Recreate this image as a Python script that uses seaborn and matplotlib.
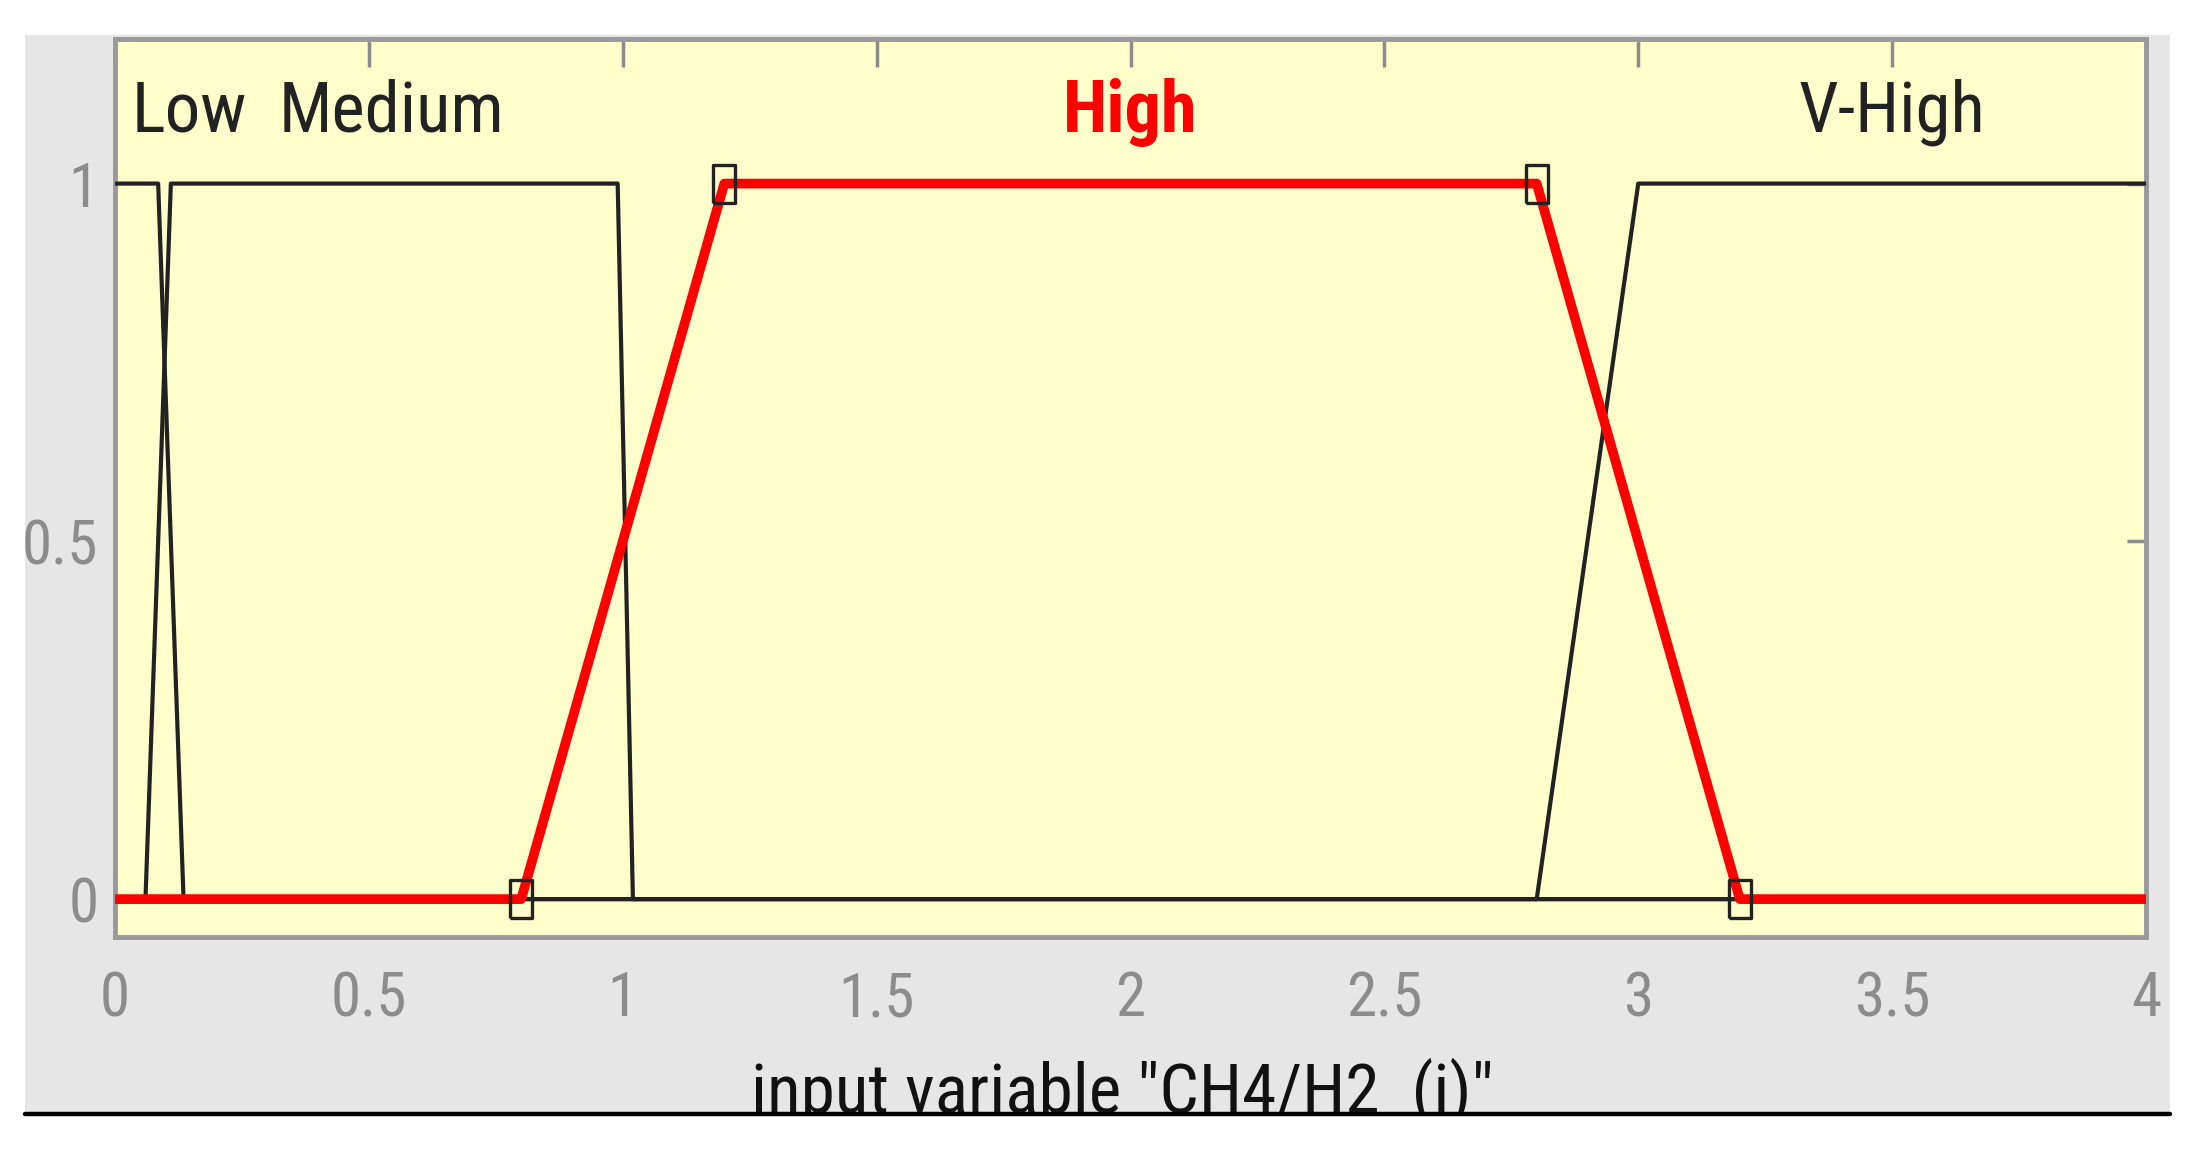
"""
Функции принадлежности входной переменной CH4/H2 (i) — копия окна MATLAB.
Выход: out.png
"""

import matplotlib
matplotlib.use("Agg")
import matplotlib.pyplot as plt
from matplotlib.patches import Rectangle
from matplotlib.lines import Line2D
from matplotlib.ticker import FormatStrFormatter
import seaborn as sns

# узлы трапеций (x, степень принадлежности)
low_x = [0.0, 0.085, 0.135, 4.0]
low_y = [1, 1, 0, 0]
medium_x = [0.0, 0.06, 0.11, 0.99, 1.02, 4.0]
medium_y = [0, 0, 1, 1, 0, 0]
high_x = [0.0, 0.8, 1.2, 2.8, 3.2, 4.0]
high_y = [0, 0, 1, 1, 0, 0]
vhigh_x = [0.0, 2.8, 3.0, 4.0]
vhigh_y = [0, 0, 1, 1]

mf_names = ["Low", "Medium", "High", "V-High"]
name_x = [0.146, 0.544, 2.0, 3.5]
x_ticks = [0, 0.5, 1, 1.5, 2, 2.5, 3, 3.5, 4]
y_ticks = [0, 0.5, 1]
x_label = 'input variable "CH4/H2  (i)"'

BG = "#e6e6e6"
FACE = "#ffffcc"
GREY = "#8c8c8c"
INK = "#222222"
# узкий шрифт ближе к скриншоту; если его нет — обычный
FONT = ["Roboto Condensed", "Liberation Sans", "DejaVu Sans"]

sns.set_style("white")
plt.rcParams["font.family"] = FONT

fig = plt.figure(figsize=(21.99, 11.52), dpi=100)
fig.patch.set_facecolor("white")

# серая подложка окна
bg = Rectangle((0.0114, 0.0347), 0.9754, 0.935, transform=fig.transFigure,
               facecolor=BG, edgecolor="none", zorder=0)
fig.add_artist(bg)

ax = fig.add_axes([0.0523, 0.1866, 0.9236, 0.7795])
ax.set_facecolor(FACE)

for xs, ys in [(low_x, low_y), (medium_x, medium_y), (vhigh_x, vhigh_y)]:
    sns.lineplot(x=xs, y=ys, ax=ax, color=INK, linewidth=3.0,
                 sort=False, estimator=None, zorder=3)

# маркер вытянут по вертикали, как на скриншоте
rect_marker = [(-0.57, -1), (0.57, -1), (0.57, 1), (-0.57, 1), (-0.57, -1)]
sns.lineplot(x=high_x, y=high_y, ax=ax, color="#ff0000", linewidth=7,
             sort=False, estimator=None, zorder=4,
             marker=rect_marker, markersize=28, markerfacecolor="none",
             markeredgecolor=INK, markeredgewidth=2.4,
             markevery=[1, 2, 3, 4])

ax.set_xlim(0, 4)
ax.set_ylim(-0.053, 1.202)
ax.set_xticks(x_ticks)
ax.set_yticks(y_ticks)
ax.xaxis.set_major_formatter(FormatStrFormatter("%g"))
ax.yaxis.set_major_formatter(FormatStrFormatter("%g"))
ax.tick_params(axis="both", direction="in", width=2.5,
               color=GREY, labelcolor=GREY, labelsize=44,
               top=True, right=True)
ax.tick_params(axis="x", length=20, pad=24)
ax.tick_params(axis="y", length=14, pad=12)
for sp in ax.spines.values():
    sp.set_color("#999999")
    sp.set_linewidth(3.5)
ax.set_xlabel("")
ax.set_ylabel("")

for name, xpos in zip(mf_names, name_x):
    is_sel = name == "High"
    ax.text(xpos, 1.1, name, ha="center", va="center",
            fontsize=52 if is_sel else 51,
            color="#ff0000" if is_sel else INK,
            fontweight="bold" if is_sel else "normal")

# подпись оси обрезана нижней кромкой окна
xl = fig.text(1122 / 2199, 1 - 1112 / 1152, x_label, ha="center",
              va="baseline", fontsize=50, color="#111111")
xl.set_clip_path(bg)
xl.set_clip_on(True)

fig.add_artist(Line2D([0.0114, 0.9868], [1 - 1114 / 1152] * 2,
                      transform=fig.transFigure, color="black",
                      linewidth=3.2))

fig.savefig("out.png", dpi=100, facecolor="white")
plt.close(fig)
